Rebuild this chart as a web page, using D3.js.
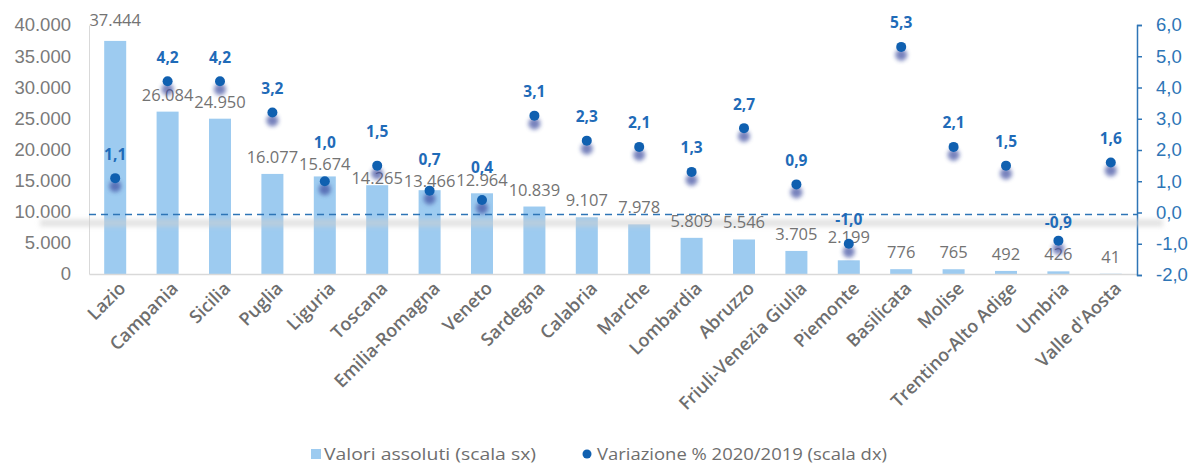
<!DOCTYPE html>
<html><head><meta charset="utf-8">
<script src="https://cdn.jsdelivr.net/npm/d3@7"></script>
<style>
body{margin:0;background:#fff;}
svg{display:block;font-family:"Open Sans","Liberation Sans",sans-serif;}
</style></head>
<body><svg id="c" width="1194" height="465"></svg>
<script>
const regions = ["Lazio","Campania","Sicilia","Puglia","Liguria","Toscana","Emilia-Romagna","Veneto","Sardegna","Calabria","Marche","Lombardia","Abruzzo","Friuli-Venezia Giulia","Piemonte","Basilicata","Molise","Trentino-Alto Adige","Umbria","Valle d'Aosta"];
const absValues = [37444,26084,24950,16077,15674,14265,13466,12964,10839,9107,7978,5809,5546,3705,2199,776,765,492,426,41];
const pctChange = [1.1,4.2,4.2,3.2,1.0,1.5,0.7,0.4,3.1,2.3,2.1,1.3,2.7,0.9,-1.0,5.3,2.1,1.5,-0.9,1.6];
const leftTicks = [0,5000,10000,15000,20000,25000,30000,35000,40000];
const rightTicks = [-2,-1,0,1,2,3,4,5,6];
const legendLabels = ["Valori assoluti (scala sx)","Variazione % 2020/2019 (scala dx)"];

// label nudges (pixels) as in the reference, to avoid overlaps
const pctLabelNudge = {"Liguria":-15,"Toscana":-10,"Emilia-Romagna":-7,"Veneto":-9,"Umbria":6};
const absLabelNudge = {"Lazio":-4,"Liguria":5,"Toscana":10,"Emilia-Romagna":8,"Veneto":4,"Piemonte":-6};

const svg = d3.select("#c");
const L = 89, R = 1137, T = 25, B = 274;
const x = d3.scaleBand().domain(regions).range([L,R]).paddingInner(0.58).paddingOuter(0.29);
const yL = d3.scaleLinear().domain([0,40000]).range([B,T]);
const yR = d3.scaleLinear().domain([-2,6]).range([B+1,T]);
const itNum = d3.formatLocale({decimal:",",thousands:".",grouping:[3],currency:["€",""],minus:"-"});
const fmtInt = itNum.format(",.0f");
const fmtPct = itNum.format(".1f");
const cx = d => x(d)+x.bandwidth()/2;

const defs = svg.append("defs");
defs.append("filter").attr("id","blur").attr("x","-50%").attr("y","-50%").attr("width","200%").attr("height","200%")
  .append("feGaussianBlur").attr("stdDeviation",2.2);
defs.append("filter").attr("id","blur2").attr("x","-10%").attr("y","-100%").attr("width","120%").attr("height","300%")
  .append("feGaussianBlur").attr("stdDeviation",2.5);

const barColor = "#9dcbf0", dotColor = "#1060b0", blue = "#2e75b6", grey = "#7a7a7a";

// bars
svg.append("g").selectAll("rect").data(regions).join("rect")
  .attr("x", d=>x(d)).attr("width", x.bandwidth())
  .attr("y", (d,i)=>yL(absValues[i])).attr("height",(d,i)=>B-yL(absValues[i]))
  .attr("fill", barColor);

// left axis
const gl = svg.append("g").attr("transform",`translate(${L},0)`)
  .call(d3.axisLeft(yL).tickValues(leftTicks).tickFormat(fmtInt).tickSize(0).tickPadding(18));
gl.select(".domain").attr("stroke","#d9d9d9");
gl.selectAll("text").attr("fill",grey).attr("font-size",18.5);

// bottom axis
const gb = svg.append("g").attr("transform",`translate(0,${B})`)
  .call(d3.axisBottom(x).tickSize(0).tickFormat(""));
gb.select(".domain").attr("stroke","#d9d9d9").attr("stroke-width",1.5);

svg.append("g").selectAll("text").data(regions).join("text")
  .attr("transform", d=>`translate(${cx(d)+2},${B+6}) rotate(-45)`)
  .attr("text-anchor","end").attr("dy","0.75em")
  .attr("font-size",18).attr("font-weight",600).attr("fill","#6e6e6e")
  .text(d=>d);

// right axis
const gr = svg.append("g").attr("transform",`translate(${R},0)`)
  .call(d3.axisRight(yR).tickValues(rightTicks).tickFormat(fmtPct).tickSize(5).tickPadding(14));
gr.select(".domain").attr("stroke",blue).attr("stroke-width",1.5);
gr.selectAll("line").attr("stroke",blue).attr("stroke-width",1.5);
gr.selectAll("text").attr("fill",blue).attr("font-size",18.5);

// dashed zero line shadow + line
svg.append("rect").attr("x",40).attr("width",1123).attr("y",yR(0)+7).attr("height",7)
  .attr("fill","#cfcfcf").attr("opacity",0.6).attr("filter","url(#blur2)");
svg.append("line").attr("x1",L).attr("x2",R).attr("y1",yR(0)+2).attr("y2",yR(0)+2)
  .attr("stroke",blue).attr("stroke-width",1.6).attr("stroke-dasharray","7,5");

// bar labels
svg.append("g").selectAll("text").data(regions).join("text")
  .attr("x", cx).attr("y",(d,i)=>yL(absValues[i])-11+(absLabelNudge[d]||0))
  .attr("text-anchor","middle").attr("font-size",16.5).attr("fill","#737373")
  .text((d,i)=>fmtInt(absValues[i]));

// dot shadows
svg.append("g").selectAll("circle").data(regions).join("circle")
  .attr("cx", cx).attr("cy",(d,i)=>yR(pctChange[i])+8).attr("r",6)
  .attr("fill","#3c4ea0").attr("opacity",0.7).attr("filter","url(#blur)");
// dots
svg.append("g").selectAll("circle").data(regions).join("circle")
  .attr("cx", cx).attr("cy",(d,i)=>yR(pctChange[i])).attr("r",5)
  .attr("fill",dotColor);
// dot labels
svg.append("g").selectAll("text").data(regions).join("text")
  .attr("x", cx).attr("y",(d,i)=>yR(pctChange[i])-18.5+(pctLabelNudge[d]||0))
  .attr("text-anchor","middle").attr("font-size",15.5).attr("font-weight",700).attr("fill","#1f6bb8")
  .text((d,i)=>fmtPct(pctChange[i]));

// legend
const lg = svg.append("g");
lg.append("rect").attr("x",311).attr("y",449).attr("width",10).attr("height",10).attr("fill",barColor);
lg.append("text").attr("x",324).attr("y",460).attr("font-size",15.5).attr("fill","#6e6e6e")
  .attr("textLength",212).attr("lengthAdjust","spacingAndGlyphs").text(legendLabels[0]);
lg.append("circle").attr("cx",587).attr("cy",454).attr("r",4.5).attr("fill",dotColor);
lg.append("text").attr("x",597).attr("y",460).attr("font-size",15.5).attr("fill","#6e6e6e")
  .attr("textLength",290).attr("lengthAdjust","spacingAndGlyphs").text(legendLabels[1]);
</script></body></html>
